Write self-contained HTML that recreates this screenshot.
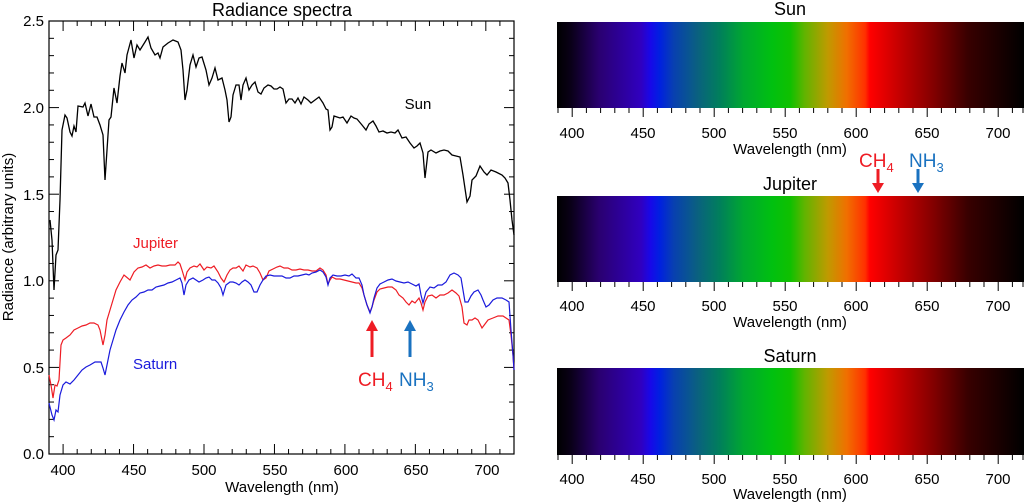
<!DOCTYPE html>
<html><head><meta charset="utf-8"><style>
body{margin:0;background:#fff;}
svg{display:block;font-family:"Liberation Sans",sans-serif;}
</style></head><body>
<svg width="1024" height="503" xmlns="http://www.w3.org/2000/svg">
<defs>
<linearGradient id="sp" x1="0" x2="1" y1="0" y2="0">
<stop offset="0" stop-color="#000000"/>
<stop offset="0.03" stop-color="#0a0018"/>
<stop offset="0.09" stop-color="#2a0070"/>
<stop offset="0.18" stop-color="#3000c0"/>
<stop offset="0.2" stop-color="#1808e8"/>
<stop offset="0.22" stop-color="#0020e0"/>
<stop offset="0.25" stop-color="#0840b0"/>
<stop offset="0.3" stop-color="#0a6080"/>
<stop offset="0.35" stop-color="#00805a"/>
<stop offset="0.4" stop-color="#00a830"/>
<stop offset="0.46" stop-color="#00c010"/>
<stop offset="0.5" stop-color="#10c000"/>
<stop offset="0.53" stop-color="#60b400"/>
<stop offset="0.58" stop-color="#c09a00"/>
<stop offset="0.62" stop-color="#f07000"/>
<stop offset="0.66" stop-color="#ff3000"/>
<stop offset="0.67" stop-color="#ff0000"/>
<stop offset="0.72" stop-color="#d00000"/>
<stop offset="0.8" stop-color="#880000"/>
<stop offset="0.88" stop-color="#380000"/>
<stop offset="1" stop-color="#000000"/>
</linearGradient>
</defs>

<!-- LEFT PLOT -->
<text x="282" y="16" font-size="18" text-anchor="middle">Radiance spectra</text>
<rect x="49" y="21" width="465" height="433" fill="none" stroke="#000" stroke-width="1.2"/>
<g stroke="#000" stroke-width="1" id="lt"></g>
<g font-size="15" text-anchor="end">
<text x="44" y="459">0.0</text><text x="44" y="373">0.5</text><text x="44" y="286">1.0</text>
<text x="44" y="200">1.5</text><text x="44" y="113">2.0</text><text x="44" y="26">2.5</text>
</g>
<g font-size="15" text-anchor="middle">
<text x="63" y="475">400</text><text x="134" y="475">450</text><text x="204" y="475">500</text>
<text x="275" y="475">550</text><text x="346" y="475">600</text><text x="416" y="475">650</text><text x="487" y="475">700</text>
</g>
<text x="282" y="492" font-size="15" text-anchor="middle">Wavelength (nm)</text>
<text transform="translate(13,237) rotate(-90)" font-size="15" text-anchor="middle">Radiance (arbitrary units)</text>

<polyline fill="none" stroke="#000" stroke-width="1.3" points="50,220 52,240 54,290 56,255 58,250 60,200 62,130 65,115 67,118 70,132 72,136 74,126 76,132 78,106 83,107 85,103 88,116 91,104 94,117 97,117 100,125 103,135 105,180 107,150 109,120 111,117 114,88 117,103 120,76 122,63 125,73 127,55 131,40 134,58 137,45 140,50 145,42 148,37 151,48 155,55 158,53 160,58 163,47 168,43 173,40 178,42 181,50 183,70 185,100 187,90 190,65 193,55 196,67 199,58 202,57 206,70 209,85 212,78 215,68 218,80 222,78 225,90 227,100 229,122 231,117 233,95 236,85 239,85 241,100 243,85 246,78 249,90 252,85 255,82 258,92 261,94 264,88 268,85 271,86 274,89 277,89 280,87 283,89 286,103 289,99 292,99 295,103 298,98 301,104 304,97 308,100 311,103 315,100 319,97 323,103 326,109 328,110 330,130 332,127 334,116 337,117 340,118 343,117 347,123 351,116 354,118 357,119 362,125 366,130 369,124 373,121 376,126 379,132 383,131 387,133 391,132 395,133 398,130 402,138 406,137 410,143 414,148 417,146 420,143 423,153 425,178 428,152 431,150 436,153 440,151 444,150 448,151 452,155 456,156 460,157 463,175 467,202 470,196 472,180 476,176 480,166 484,172 487,175 491,170 496,172 502,175 505,178 508,183 510,200 512,220 514,235"/>
<polyline fill="none" stroke="#ee1c24" stroke-width="1.2" points="49,375 51,385 53,398 55,385 57,386 59,380 61,345 63,340 66,338 70,335 74,330 78,328 82,326 86,325 90,323 94,323 98,325 100,330 103,345 105,335 107,320 110,310 113,300 116,290 120,282 124,275 130,280 134,272 138,268 142,267 146,265 150,268 154,266 158,265 162,266 166,266 170,265 175,265 178,262 180,264 182,270 185,280 187,272 190,268 194,266 197,267 200,264 204,270 207,267 211,268 214,266 218,272 221,278 224,282 227,275 230,270 233,268 236,268 239,266 243,271 246,265 250,267 253,266 257,268 260,273 263,280 266,278 269,271 273,269 277,267 280,266 284,268 288,268 292,270 296,270 300,269 304,270 308,270 312,271 316,271 320,268 323,270 326,275 328,284 330,280 332,277 336,279 340,279 344,280 348,281 352,282 356,283 359,283 362,288 364,295 367,305 370,312 372,307 374,300 377,292 380,289 384,288 388,287 392,287 396,290 399,295 403,298 406,302 409,305 412,301 415,303 419,298 421,303 423,310 425,302 428,296 432,295 436,298 440,295 444,295 448,293 452,290 456,293 459,296 462,307 464,323 467,325 469,320 472,320 475,318 478,320 480,324 482,328 485,324 488,320 493,318 498,316 503,316 506,318 509,320 511,335 513,355 514,370"/>
<polyline fill="none" stroke="#1a1adc" stroke-width="1.2" points="49,403 52,415 54,420 56,410 58,412 60,395 63,385 66,382 70,384 74,380 78,375 82,370 86,367 90,365 95,362 98,362 101,362 103,368 105,375 107,365 110,350 113,340 116,330 120,320 124,312 128,305 132,300 136,297 140,293 144,292 148,290 152,290 156,287 160,286 164,285 168,283 172,282 176,280 180,278 182,283 184,295 186,285 189,280 193,278 196,280 199,282 203,280 206,278 209,277 212,280 215,280 218,283 221,288 223,295 226,285 230,282 233,282 236,283 239,285 242,282 245,280 248,282 251,285 254,292 257,292 260,285 263,280 266,276 270,275 274,276 278,276 282,276 286,278 290,278 294,276 298,276 302,275 306,274 309,275 312,273 316,272 320,270 323,272 326,277 328,285 330,278 333,275 337,276 341,276 345,275 349,276 352,274 356,278 359,278 362,285 364,295 367,305 370,313 372,307 374,298 377,288 380,284 384,282 388,280 392,279 396,281 400,282 404,283 408,282 412,284 416,286 419,284 421,295 423,303 426,292 430,287 434,288 438,285 442,285 446,282 450,275 454,273 458,275 461,278 463,290 465,302 468,302 471,296 474,292 478,290 481,295 483,300 486,307 489,305 493,300 497,298 502,298 506,300 509,302 511,330 513,355 514,370"/>

<text x="418" y="109" font-size="15" text-anchor="middle">Sun</text>
<text x="133" y="248" font-size="15" fill="#ee1c24">Jupiter</text>
<text x="133" y="369" font-size="15" fill="#1a1adc">Saturn</text>

<line x1="372" y1="357" x2="372" y2="330" stroke="#ee1c24" stroke-width="3"/>
<polygon points="366,331 378,331 372,320" fill="#ee1c24"/>
<line x1="410" y1="357" x2="410" y2="330" stroke="#1a72c0" stroke-width="3"/>
<polygon points="404,331 416,331 410,320" fill="#1a72c0"/>
<text x="358" y="386" font-size="19" fill="#ee1c24">CH<tspan font-size="13" dy="5">4</tspan></text>
<text x="399" y="386" font-size="19" fill="#1a72c0">NH<tspan font-size="13" dy="5">3</tspan></text>

<!-- RIGHT BARS -->
<text x="790" y="15" font-size="18" text-anchor="middle">Sun</text>
<rect x="557" y="22" width="467" height="86" fill="url(#sp)"/>
<text x="790" y="190" font-size="18" text-anchor="middle">Jupiter</text>
<rect x="557" y="196" width="467" height="86" fill="url(#sp)"/>
<text x="790" y="362" font-size="18" text-anchor="middle">Saturn</text>
<rect x="557" y="368" width="467" height="87" fill="url(#sp)"/>

<g id="rt" stroke="#000" stroke-width="1"></g>
<g font-size="15" text-anchor="middle">
<text x="572" y="138">400</text><text x="643" y="138">450</text><text x="714" y="138">500</text><text x="785" y="138">550</text><text x="856" y="138">600</text><text x="927" y="138">650</text><text x="998" y="138">700</text>
<text x="790" y="154">Wavelength (nm)</text>
<text x="572" y="311">400</text><text x="643" y="311">450</text><text x="714" y="311">500</text><text x="785" y="311">550</text><text x="856" y="311">600</text><text x="927" y="311">650</text><text x="998" y="311">700</text>
<text x="790" y="327">Wavelength (nm)</text>
<text x="572" y="484">400</text><text x="643" y="484">450</text><text x="714" y="484">500</text><text x="785" y="484">550</text><text x="856" y="484">600</text><text x="927" y="484">650</text><text x="998" y="484">700</text>
<text x="790" y="499">Wavelength (nm)</text>
</g>
<text x="859" y="167" font-size="19" fill="#ee1c24">CH<tspan font-size="13" dy="5">4</tspan></text>
<text x="909" y="167" font-size="19" fill="#1a72c0">NH<tspan font-size="13" dy="5">3</tspan></text>
<line x1="878" y1="169" x2="878" y2="184" stroke="#ee1c24" stroke-width="3"/>
<polygon points="872,183 884,183 878,193" fill="#ee1c24"/>
<line x1="918" y1="169" x2="918" y2="184" stroke="#1a72c0" stroke-width="3"/>
<polygon points="912,183 924,183 918,193" fill="#1a72c0"/>

<script>
(function(){
var NS="http://www.w3.org/2000/svg";
function L(g,x1,y1,x2,y2){var l=document.createElementNS(NS,"line");l.setAttribute("x1",x1);l.setAttribute("y1",y1);l.setAttribute("x2",x2);l.setAttribute("y2",y2);g.appendChild(l);}
var lt=document.getElementById("lt");
for(var nm=390;nm<=720;nm+=10){var x=49+(nm-390)*465/330;var big=nm%50==0;var len=big?10:5;L(lt,x,454,x,454-len);L(lt,x,21,x,21+len);}
for(var v=0;v<=25;v++){var y=454-v*433/25;var big=v%5==0;var len=big?10:5;L(lt,49,y,49+len,y);L(lt,514,y,514-len,y);}
var rt=document.getElementById("rt");
[108,282,455].forEach(function(b){for(var nm=390;nm<=720;nm+=10){var x=558+(nm-390)*426/300;if(x>1023)x=1023;var big=nm%50==0;L(rt,x,b,x,b+(big?9:5));}});
})();
</script>
</svg>
</body></html>
